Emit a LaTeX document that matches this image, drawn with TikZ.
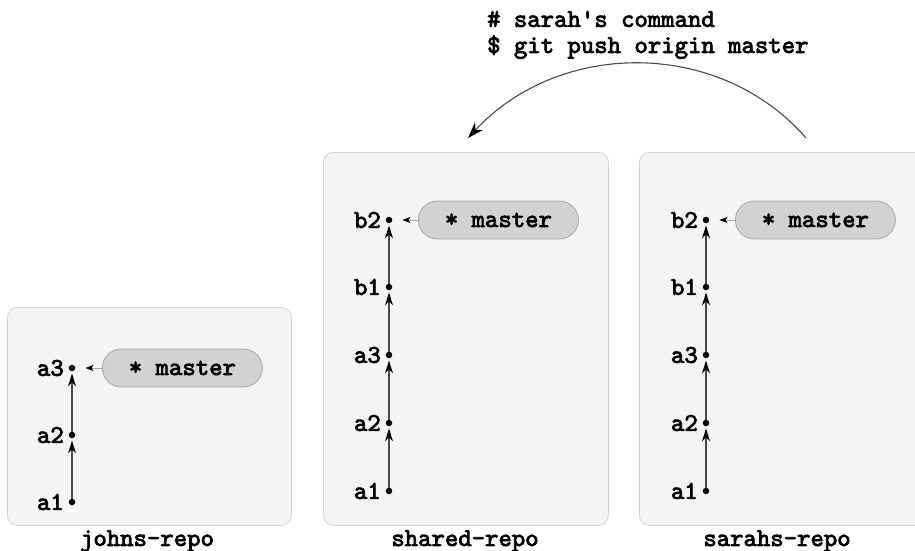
\documentclass[tikz,border=0pt]{standalone}
\usepackage{fontspec}
\newfontfamily\courbold{lmmono10-regular.otf}[FakeBold=3]
\usetikzlibrary{arrows.meta}
\definecolor{boxfill}{HTML}{F4F4F4}
\definecolor{boxborder}{HTML}{D4D4D4}
\definecolor{tagfill}{HTML}{D2D2D2}
\definecolor{tagborder}{HTML}{A6A6A6}
\definecolor{histline}{HTML}{4A4A4A}
\begin{document}
\begin{tikzpicture}[x=1pt,y=-1pt,
  mono/.style={font=\courbold\fontsize{25.5}{28}\selectfont},
  repo/.style={draw=boxborder, fill=boxfill, rounded corners=10pt, line width=0.8pt, anchor=north west, inner sep=0pt},
  commit/.style={circle, fill=black, inner sep=0pt, minimum size=6.5pt},
  clabel/.style={mono, anchor=east, inner sep=0pt},
  tag/.style={mono, draw=tagborder, fill=tagfill, rounded corners=19pt, minimum width=160pt, minimum height=38pt, anchor=west, inner sep=0pt, line width=0.8pt},
  hist/.style={draw=histline, line width=1.3pt, -{Stealth[length=13pt,width=8pt,inset=4pt,color=black]}, shorten >=2pt},
  ptr/.style={draw=tagborder, line width=0.9pt, -{Stealth[length=8pt,width=6pt,inset=2pt,color=black]}, shorten >=10pt},
  push/.style={draw=histline, line width=1.1pt, -{Stealth[length=16pt,width=11pt,inset=5pt,color=black]}},
  rlabel/.style={mono, inner sep=0pt}
]
\useasboundingbox (0,0) rectangle (915,551);

% repository boxes
\node[repo, minimum width=284pt, minimum height=218pt] (jbox) at (7,307) {};
\node[repo, minimum width=285pt, minimum height=373pt] (sbox) at (323,152) {};
\node[repo, minimum width=290pt, minimum height=373pt] (rbox) at (639,152) {};

\node[rlabel] (jlabel) at (147,541) {johns-repo};
\node[rlabel] (slabel) at (465,541) {shared-repo};
\node[rlabel] (rlabel) at (777,541) {sarahs-repo};

% johns-repo
\node[commit] (ja1) at (72,502) {};
\node[commit] (ja2) at (72,435) {};
\node[commit] (ja3) at (72,368) {};
\node[clabel] at ([xshift=-8pt]ja1.center) {a1};
\node[clabel] at ([xshift=-8pt]ja2.center) {a2};
\node[clabel] at ([xshift=-8pt]ja3.center) {a3};
\draw[hist] (ja1) -- (ja2);
\draw[hist] (ja2) -- (ja3);
\node[tag] (jtag) at (102,368) {* master};
\draw[ptr] (jtag.west) -- (ja3);

% shared-repo
\node[commit] (sa1) at (389,491) {};
\node[commit] (sa2) at (389,423) {};
\node[commit] (sa3) at (389,355) {};
\node[commit] (sb1) at (389,287) {};
\node[commit] (sb2) at (389,220) {};
\node[clabel] at ([xshift=-8pt]sa1.center) {a1};
\node[clabel] at ([xshift=-8pt]sa2.center) {a2};
\node[clabel] at ([xshift=-8pt]sa3.center) {a3};
\node[clabel] at ([xshift=-8pt]sb1.center) {b1};
\node[clabel] at ([xshift=-8pt]sb2.center) {b2};
\draw[hist] (sa1) -- (sa2);
\draw[hist] (sa2) -- (sa3);
\draw[hist] (sa3) -- (sb1);
\draw[hist] (sb1) -- (sb2);
\node[tag] (stag) at (418,220) {* master};
\draw[ptr] (stag.west) -- (sb2);

% sarahs-repo
\node[commit] (ra1) at (706,491) {};
\node[commit] (ra2) at (706,423) {};
\node[commit] (ra3) at (706,355) {};
\node[commit] (rb1) at (706,287) {};
\node[commit] (rb2) at (706,220) {};
\node[clabel] at ([xshift=-8pt]ra1.center) {a1};
\node[clabel] at ([xshift=-8pt]ra2.center) {a2};
\node[clabel] at ([xshift=-8pt]ra3.center) {a3};
\node[clabel] at ([xshift=-8pt]rb1.center) {b1};
\node[clabel] at ([xshift=-8pt]rb2.center) {b2};
\draw[hist] (ra1) -- (ra2);
\draw[hist] (ra2) -- (ra3);
\draw[hist] (ra3) -- (rb1);
\draw[hist] (rb1) -- (rb2);
\node[tag] (rtag) at (735,220) {* master};
\draw[ptr] (rtag.west) -- (rb2);

% command text and push arrow
\node[mono, anchor=west, inner sep=0pt] (cmd1) at (487,19) {\# sarah's command};
\node[mono, anchor=west, inner sep=0pt] (cmd2) at (487,47) {\$ git push origin master};
\coordinate (pstart) at (806,138);
\coordinate (pend) at (468,138);
\draw[push] (pstart) .. controls (720,39) and (560,39) .. (pend);
\end{tikzpicture}
\end{document}
